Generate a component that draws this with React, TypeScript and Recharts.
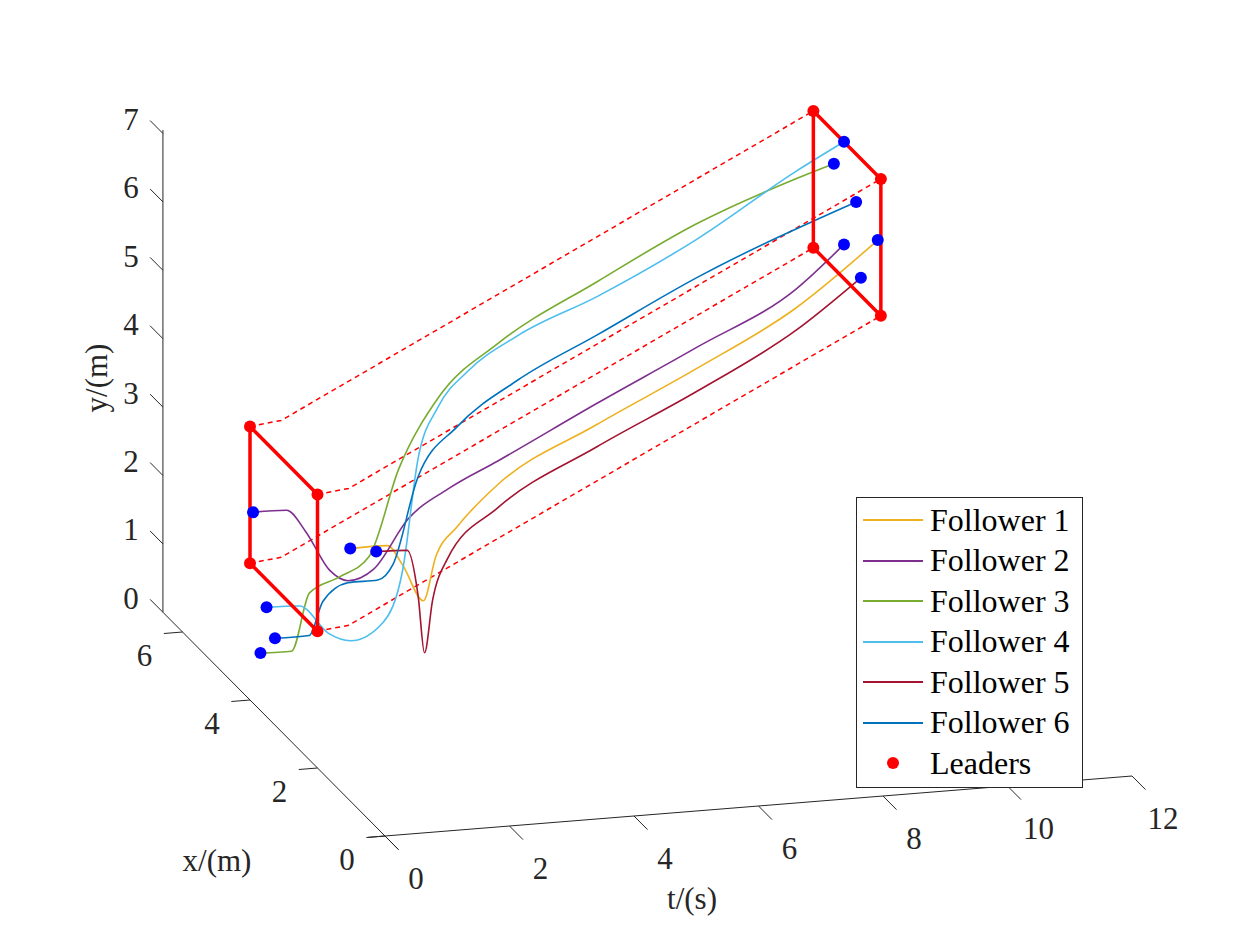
import React from "react";
import { ComposedChart, Line, Scatter, XAxis, YAxis } from "recharts";

// 3D data: [t (s), x (m), y (m)]
const follower1 = [[0,1.03,3.69],[0.6,1.03,3.69],[1.2,1.68,3.03],[1.7,2,2.32],[1.9,2,2.95],[2.25,2,3.37],[2.88,2,3.92],[4.48,2,4.69],[6.08,2,5.39],[7.68,2,6.16],[9,2,7.06]];
const follower2 = [[0,3.91,2.79],[0.54,3.91,2.78],[0.76,3.75,2.53],[1.05,3.58,2.03],[1.27,3.44,1.93],[1.58,3.25,2.17],[2,3,3.0],[2.64,3,3.39],[3.44,3,3.74],[5.04,3,4.47],[6.64,3,5.17],[8.24,3,5.91],[9,3,6.5]];
const follower3 = [[0,3.69,0.84],[0.5,3.69,0.83],[0.75,3.62,1.7],[1.17,3.52,1.95],[1.59,3.41,2.27],[2.01,3.3,3.58],[2.65,3.3,4.58],[3.61,3.3,5.3],[5.21,3.3,6.09],[6.81,3.3,6.82],[8.41,3.3,7.36],[9,3.3,7.53]];
const follower4 = [[0,3.51,1.6],[0.53,3.51,1.58],[0.92,3.37,1.22],[1.22,3.27,1.14],[1.66,3.12,1.45],[1.92,3.02,2.24],[2.16,3,3.88],[2.48,3,4.6],[2.96,3,5.09],[3.76,3,5.55],[5.04,3,6.03],[6.64,3,6.75],[8.24,3,7.63],[9,3,8.0]];
const follower5 = [[0,0.26,4.03],[0.5,0.26,4.01],[1.4,1.6,2.61],[1.99,2.5,1.29],[2.12,2.5,2.05],[2.36,2.5,2.64],[3.16,2.5,3.32],[4.76,2.5,4.1],[6.36,2.5,4.79],[7.96,2.5,5.57],[9,2.5,6.26]];
const follower6 = [[0,3.26,1.27],[0.55,3.26,1.27],[0.72,3.17,1.8],[1.06,3.05,2.11],[1.44,2.87,2.21],[1.65,2.81,2.45],[1.96,2.64,3.79],[2.6,2.64,4.49],[3.56,2.64,5.09],[4.84,2.64,5.66],[6.44,2.64,6.38],[9,2.64,7.3]];
const followers = [follower1, follower2, follower3, follower4, follower5, follower6];
const followerNames = ["Follower 1","Follower 2","Follower 3","Follower 4","Follower 5","Follower 6"];
const followerColors = ["#EDB120","#7E2F8E","#77AC30","#4DBEEE","#A2142F","#0072BD"];

// leaders: x, initial y; trajectory times and y offsets
const leaderX = [4, 2, 2, 4];
const leaderY0 = [4, 4, 2, 2];
const leaderT = [0, 0.5, 9.05];
const leaderRise = [0, 0.05, 3.95];

const tTicks = [0, 2, 4, 6, 8, 10, 12];
const xTicks = [0, 2, 4, 6];
const yTicks = [0, 1, 2, 3, 4, 5, 6, 7];

const proj = (t: number, x: number, y: number) => ({
  sx: 385 + 62.25 * t - 33.75 * x,
  sy: 836 - 5 * t - 34 * x - 68.4 * y,
});
const P = (a: number[]) => proj(a[0], a[1], a[2]);

const leaderTraj = leaderX.map((x, i) => leaderT.map((t, k) => P([t, x, leaderY0[i] + leaderRise[k]])));
const boxAt = (k: number) => [0, 1, 2, 3, 0].map((i) => P([leaderT[k], leaderX[i], leaderY0[i] + leaderRise[k]]));
const leaderDots = [...boxAt(0).slice(0, 4), ...boxAt(2).slice(0, 4)];
const followerLines = followers.map((f) => f.map(P));
const blueDots = followers.flatMap((f) => [P(f[0]), P(f[f.length - 1])]);

const tAxis = [P([-0.27, 0, 0]), P([12, 0, 0])];
const xAxisL = [P([0, -0.4, 0]), P([0, 6.58, 0])];
const yAxisL = [P([0, 6.58, 0]), P([0, 6.58, 7.05])];
const tTickSegs = tTicks.map((t) => [P([t, 0, 0]), P([t, -0.4, 0])]);
const xTickSegs = xTicks.map((x) => [P([0, x, 0]), P([-0.3, x, 0])]);
const yTickSegs = yTicks.map((y) => [P([0, 6.58, y]), P([0, 6.96, y])]);

const labels = [
  ...tTicks.map((t) => { const p = P([t, 0, 0]); return { sx: p.sx + 31, sy: p.sy + 42, label: String(t), anchor: "middle" }; }),
  ...xTicks.map((x) => { const p = P([0, x, 0]); return { sx: p.sx - 38, sy: p.sy + 23, label: String(x), anchor: "middle" }; }),
  ...yTicks.map((y) => { const p = P([0, 6.58, y]); return { sx: p.sx - 32, sy: p.sy - 14, label: String(y), anchor: "middle" }; }),
  { sx: 692, sy: 898, label: "t/(s)", anchor: "middle" },
  { sx: 217, sy: 860, label: "x/(m)", anchor: "middle" },
];

const FONT = "'Liberation Serif', 'DejaVu Serif', serif";

const TextShape = (p: any) => (
  <text x={p.cx} y={p.cy} textAnchor={p.payload.anchor} dominantBaseline="central" fontFamily={FONT} fontSize={31} fill="#262626">
    {p.payload.label}
  </text>
);
const Dot = (color: string) => (p: any) => <circle cx={p.cx} cy={p.cy} r={6} fill={color} />;

const LegendBox = () => (
  <div style={{ position: "absolute", left: 856, top: 497, width: 227, height: 291, border: "1px solid #262626", background: "#fff", boxSizing: "border-box", fontFamily: FONT, fontSize: 32, color: "#000" }}>
    {followerNames.map((n, i) => (
      <div key={n} style={{ position: "absolute", top: 2 + i * 40.5, left: 0, height: 40, display: "flex", alignItems: "center", whiteSpace: "nowrap" }}>
        <div style={{ width: 60, height: 2, background: followerColors[i], marginLeft: 6, marginRight: 7 }} />
        <span>{n}</span>
      </div>
    ))}
    <div style={{ position: "absolute", top: 2 + 6 * 40.5, left: 0, height: 40, display: "flex", alignItems: "center" }}>
      <div style={{ width: 60, marginLeft: 6, marginRight: 7, display: "flex", justifyContent: "center" }}>
        <div style={{ width: 12, height: 12, borderRadius: 6, background: "#FF0000" }} />
      </div>
      <span>Leaders</span>
    </div>
  </div>
);

const seg = (data: any[], key: string, color: string, w = 1, dash?: string, type: any = "linear") => (
  <Line key={key} data={data} dataKey="sy" type={type} stroke={color} strokeWidth={w} strokeDasharray={dash} dot={false} activeDot={false} isAnimationActive={false} legendType="none" />
);

export default function App() {
  return (
    <div style={{ position: "absolute", left: 0, top: 0, width: 1250, height: 938, background: "#fff" }}>
      <ComposedChart width={1250} height={938} margin={{ top: 0, right: 0, bottom: 0, left: 0 }}>
        <XAxis type="number" dataKey="sx" domain={[0, 1250]} hide allowDataOverflow />
        <YAxis type="number" dataKey="sy" domain={[0, 938]} reversed hide allowDataOverflow />
        {seg(tAxis, "ta", "#262626", 1)}
        {seg(xAxisL, "xa", "#262626", 1)}
        {seg(yAxisL, "ya", "#262626", 1)}
        {tTickSegs.map((s, i) => seg(s, "tt" + i, "#262626", 1))}
        {xTickSegs.map((s, i) => seg(s, "xt" + i, "#262626", 1))}
        {yTickSegs.map((s, i) => seg(s, "yt" + i, "#262626", 1))}
        {leaderTraj.map((s, i) => seg(s, "ld" + i, "#FF0000", 1.5, "5 4"))}
        {followerLines.map((s, i) => seg(s, "f" + i, followerColors[i], 1.6, undefined, "monotoneX"))}
        {seg(boxAt(0), "b0", "#FF0000", 3.5)}
        {seg(boxAt(2), "b2", "#FF0000", 3.5)}
        <Scatter data={leaderDots} shape={Dot("#FF0000")} isAnimationActive={false} legendType="none" />
        <Scatter data={blueDots} shape={Dot("#0000FF")} isAnimationActive={false} legendType="none" />
        <Scatter data={labels} shape={TextShape} isAnimationActive={false} legendType="none" />
      </ComposedChart>
      <LegendBox />
      <div style={{ position: "absolute", left: 97, top: 378, transform: "translate(-50%,-50%) rotate(-90deg)", fontFamily: FONT, fontSize: 31, color: "#262626", whiteSpace: "nowrap" }}>y/(m)</div>
    </div>
  );
}
